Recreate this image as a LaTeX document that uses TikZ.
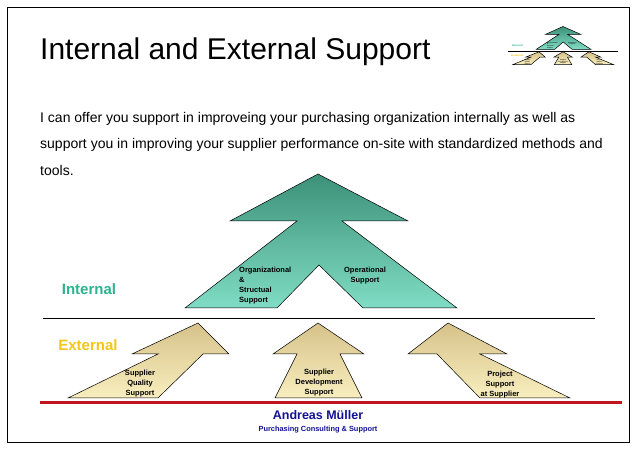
\documentclass[tikz,border=0pt]{standalone}
\usepackage{fontspec}
\setmainfont{Liberation Sans}
\usetikzlibrary{positioning}

\definecolor{tealdark}{RGB}{60,145,120}
\definecolor{teallight}{RGB}{128,220,196}
\definecolor{tandark}{RGB}{214,194,138}
\definecolor{tanlight}{RGB}{248,238,190}
\definecolor{internalcol}{RGB}{44,178,140}
\definecolor{externalcol}{RGB}{245,197,24}
\definecolor{rulered}{RGB}{192,20,32}
\definecolor{namenavy}{RGB}{18,18,150}

\newcommand{\supportdiagram}[1]{%
        \path[green arrow]
          (318,174) -- (408,221) -- (342,221) -- (457,308) -- (363,308)
          -- (319,265) -- (277,308) -- (185,308) -- (297,221) -- (230,221) -- cycle;
        \path[yellow arrow]
          (198,323) -- (229,354) -- (203,354) -- (158,398) -- (68,398)
          -- (158,354) -- (132,354) -- cycle;
        \path[yellow arrow]
          (318,323) -- (364,354) -- (340,354) -- (362,398) -- (275,398)
          -- (297,354) -- (273,354) -- cycle;
        \path[yellow arrow]
          (448,323) -- (507,354) -- (480,354) -- (570,398) -- (480,398)
          -- (437,354) -- (408,354) -- cycle;
        \draw[line width=0.8pt] (43,318) -- (595,318);

        \node[level, text=internalcol] (#1int) at (89,289) {Internal};
        \node[level, text=externalcol] (#1ext) at (88,345) {External};

        \node[arrowtext, align=left, anchor=north west] (#1org) at (239,266.5)
          {Organizational\\\&\\Structual\\Support};
        \node[arrowtext, anchor=north] (#1op) at (365,266.5) {Operational\\Support};

        \node[arrowtext, anchor=north] (#1sq) at (140,369.5) {Supplier\\Quality\\Support};
        \node[arrowtext, anchor=north] (#1sd) at (319,368.5) {Supplier\\Development\\Support};
        \node[arrowtext, anchor=north] (#1ps) at (500,370.5) {Project\\Support\\at Supplier};
}

\begin{document}
\begin{tikzpicture}[x=1pt, y=-1pt, inner sep=0pt,
        green arrow/.style={draw, line width=0.5pt, top color=tealdark, bottom color=teallight},
        yellow arrow/.style={draw, line width=0.5pt, top color=tandark, bottom color=tanlight},
        level/.style={font=\bfseries\fontsize{15}{18}\selectfont},
        arrowtext/.style={font=\bfseries\fontsize{7.5}{10}\selectfont, align=center},
        body/.style={font=\fontsize{14}{26.5}\selectfont, align=left}]
        \useasboundingbox (0,0) rectangle (638,449);
        \fill[white] (0,0) rectangle (638,449);
        \draw[line width=0.8pt] (7,7) rectangle (629,442);

        \node[anchor=base west, font=\fontsize{30}{36}\selectfont] (title) at (40,60)
          {Internal and External Support};
        \node[body, anchor=north west] (intro) at (40,111.8)
          {I can offer you support in improveing your purchasing organization internally as well as\\
           support you in improving your supplier performance on-site with standardized methods and\\
           tools.};

        \supportdiagram{}

        \begin{scope}[shift={(499.4,-3.1)}, xscale=0.2, yscale=0.17, transform shape]
          \supportdiagram{logo-}
        \end{scope}

        \draw[line width=3pt, rulered] (40,403) -- (622,403);

        \node[font=\bfseries\fontsize{12.5}{14}\selectfont, text=namenavy] (name) at (318,415)
          {Andreas Müller};
        \node[font=\bfseries\fontsize{7.4}{9}\selectfont, text=namenavy, below=6pt of name] (firm)
          {Purchasing Consulting \& Support};
\end{tikzpicture}
\end{document}
